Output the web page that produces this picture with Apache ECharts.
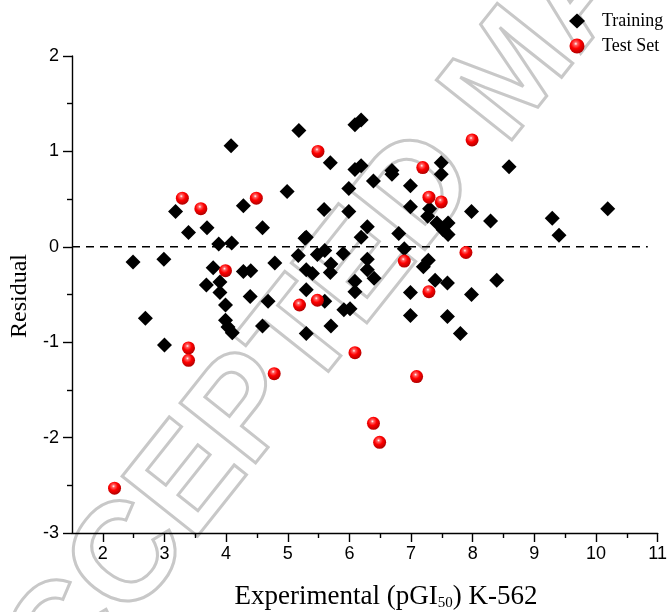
<!DOCTYPE html>
<html><head><meta charset="utf-8">
<script src="https://cdn.jsdelivr.net/npm/echarts@6/dist/echarts.min.js"></script>
<style>html,body{margin:0;padding:0;background:#fff}#c{width:670px;height:612px}</style>
</head><body><div id="c"></div>
<script>
const trainingX = [5.18,4.08,4.99,3.18,4.28,3.39,3.69,4.59,3.88,4.09,5.17,2.49,2.99,3.79,4.28,4.40,4.79,3.68,3.90,3.90,4.39,4.68,5.28,5.48,5.60,5.70,5.30,5.40,5.69,3.99,5.30,5.60,2.69,3.99,4.03,4.10,4.59,5.30,5.70,3.00,6.09,6.19,5.69,6.09,6.19,6.69,6.69,7.49,7.49,5.99,6.39,6.99,5.59,5.99,6.99,7.30,7.27,7.42,7.60,7.52,7.60,6.29,6.19,6.80,7.98,5.30,6.89,5.90,6.29,6.40,7.20,7.28,6.09,6.09,7.39,7.59,6.99,7.98,6.29,5.91,6.01,6.99,7.59,7.80,8.59,8.29,9.29,10.19,9.40,8.39];
const trainingY = [1.22,1.06,0.58,0.37,0.43,0.15,0.20,0.20,0.03,0.04,-0.09,-0.16,-0.13,-0.22,-0.26,-0.25,-0.17,-0.40,-0.37,-0.48,-0.52,-0.57,0.09,-0.08,-0.04,-0.18,-0.24,-0.28,-0.27,-0.61,-0.45,-0.57,-0.75,-0.77,-0.84,-0.90,-0.83,-0.91,-0.83,-1.03,1.28,1.33,0.88,0.81,0.85,0.80,0.76,0.88,0.76,0.61,0.69,0.64,0.39,0.37,0.42,0.40,0.32,0.25,0.25,0.18,0.13,0.21,0.10,0.14,0.37,0.10,-0.02,-0.07,-0.13,-0.33,-0.21,-0.14,-0.36,-0.47,-0.35,-0.38,-0.48,-0.50,-0.24,-0.66,-0.65,-0.72,-0.73,-0.91,0.84,0.27,0.30,0.40,0.12,-0.35];
const testX = [3.29,3.59,4.49,3.99,3.39,3.39,4.78,5.19,5.48,5.49,7.19,7.99,7.29,7.49,7.89,6.89,7.29,6.09,7.09,6.39,6.49,2.19];
const testY = [0.51,0.40,0.51,-0.25,-1.06,-1.19,-1.33,-0.61,-0.56,1.00,0.83,1.12,0.52,0.47,-0.06,-0.15,-0.47,-1.11,-1.36,-1.85,-2.05,-2.53];
const xMajorTicks = [2,3,4,5,6,7,8,9,10,11];
const xMinorTicks = [2.5,3.5,4.5,5.5,6.5,7.5,8.5,9.5,10.5];
const zeroLineX = [1.5, 10.84];
const seriesNames = ['Training', 'Test Set'];

const training = trainingX.map((x,i)=>[x, trainingY[i]]);
const test = testX.map((x,i)=>[x, testY[i]]);

const chart = echarts.init(document.getElementById('c'), null, {renderer:'canvas'});
const sphere = {type:'radial', x:0.42, y:0.35, r:0.65, colorStops:[
  {offset:0, color:'#ffffff'},{offset:0.18, color:'#ff6060'},{offset:0.5, color:'#ff0000'},{offset:1, color:'#b00000'}]};
const axisLineStyle = {color:'#000', width:1.4};
chart.setOption({
  animation:false,
  backgroundColor:'#fff',
  grid:{left:72, right:8, top:56, bottom:79, containLabel:false},
  legend:{
    left:569, top:12, padding:0, orient:'vertical', itemGap:7, itemWidth:16, itemHeight:15,
    textStyle:{fontFamily:'Liberation Serif', fontSize:18, lineHeight:15, color:'#000', padding:[0,0,0,12]},
    data:[{name:seriesNames[0], icon:'diamond', itemStyle:{color:'#000', opacity:1}},{name:seriesNames[1], icon:'circle'}]
  },
  xAxis:[{
    type:'value', min:1.5, max:11,
    axisLine:{show:true, onZero:false, lineStyle:axisLineStyle},
    axisTick:{show:true, inside:false, length:9, customValues:xMajorTicks, lineStyle:axisLineStyle},
    axisLabel:{show:true, customValues:xMajorTicks, margin:12, fontFamily:'Liberation Sans', fontSize:18, color:'#000'},
    splitLine:{show:false}
  },{
    type:'value', min:1.5, max:11, gridIndex:0, position:'bottom',
    axisLine:{show:false, onZero:false},
    axisTick:{show:true, length:5, customValues:xMinorTicks, lineStyle:axisLineStyle},
    axisLabel:{show:false}, splitLine:{show:false}
  }],
  yAxis:{
    type:'value', min:-3, max:2, interval:1,
    axisLine:{show:true, onZero:false, lineStyle:axisLineStyle},
    axisTick:{show:true, length:9, lineStyle:axisLineStyle},
    minorTick:{show:true, splitNumber:2, length:5, lineStyle:axisLineStyle},
    axisLabel:{margin:13, fontFamily:'Liberation Sans', fontSize:18, color:'#000'},
    splitLine:{show:false}, minorSplitLine:{show:false}
  },
  graphic:[
    {type:'text', z:-10, silent:true, x:-27, y:757, rotation:0.9,
      style:{text:'ACCEPTED MANUSCRIPT', font:'bold 140px "Liberation Sans"', fill:'rgba(0,0,0,0)', stroke:'#c8c8c8', lineWidth:3, textAlign:'left', textVerticalAlign:'middle'}},
    {type:'text', x:386, y:597, z:10,
      style:{text:'Experimental (pGI{s|50}) K-562', textAlign:'center', textVerticalAlign:'middle', font:'27px "Liberation Serif"', fill:'#000',
        rich:{s:{fontSize:15, fontFamily:'Liberation Serif', verticalAlign:'bottom', padding:[12,0,0,0]}}}},
    {type:'text', x:20, y:296, rotation:Math.PI/2, z:10,
      style:{text:'Residual', textAlign:'center', textVerticalAlign:'middle', font:'24px "Liberation Serif"', fill:'#000'}}
  ],
  series:[
    {type:'line', data:zeroLineX.map(x=>[x,0]), symbol:'none', silent:true, z:1,
      lineStyle:{color:'#000', width:1.5, type:[8,6]}},
    {name:seriesNames[0], type:'scatter', data:training, symbol:'diamond', symbolSize:15, z:3,
      itemStyle:{color:'#000', opacity:1}},
    {name:seriesNames[1], type:'scatter', data:test, symbol:'circle', symbolSize:13, z:4,
      itemStyle:{color:sphere, opacity:1}}
  ]
});
</script></body></html>
